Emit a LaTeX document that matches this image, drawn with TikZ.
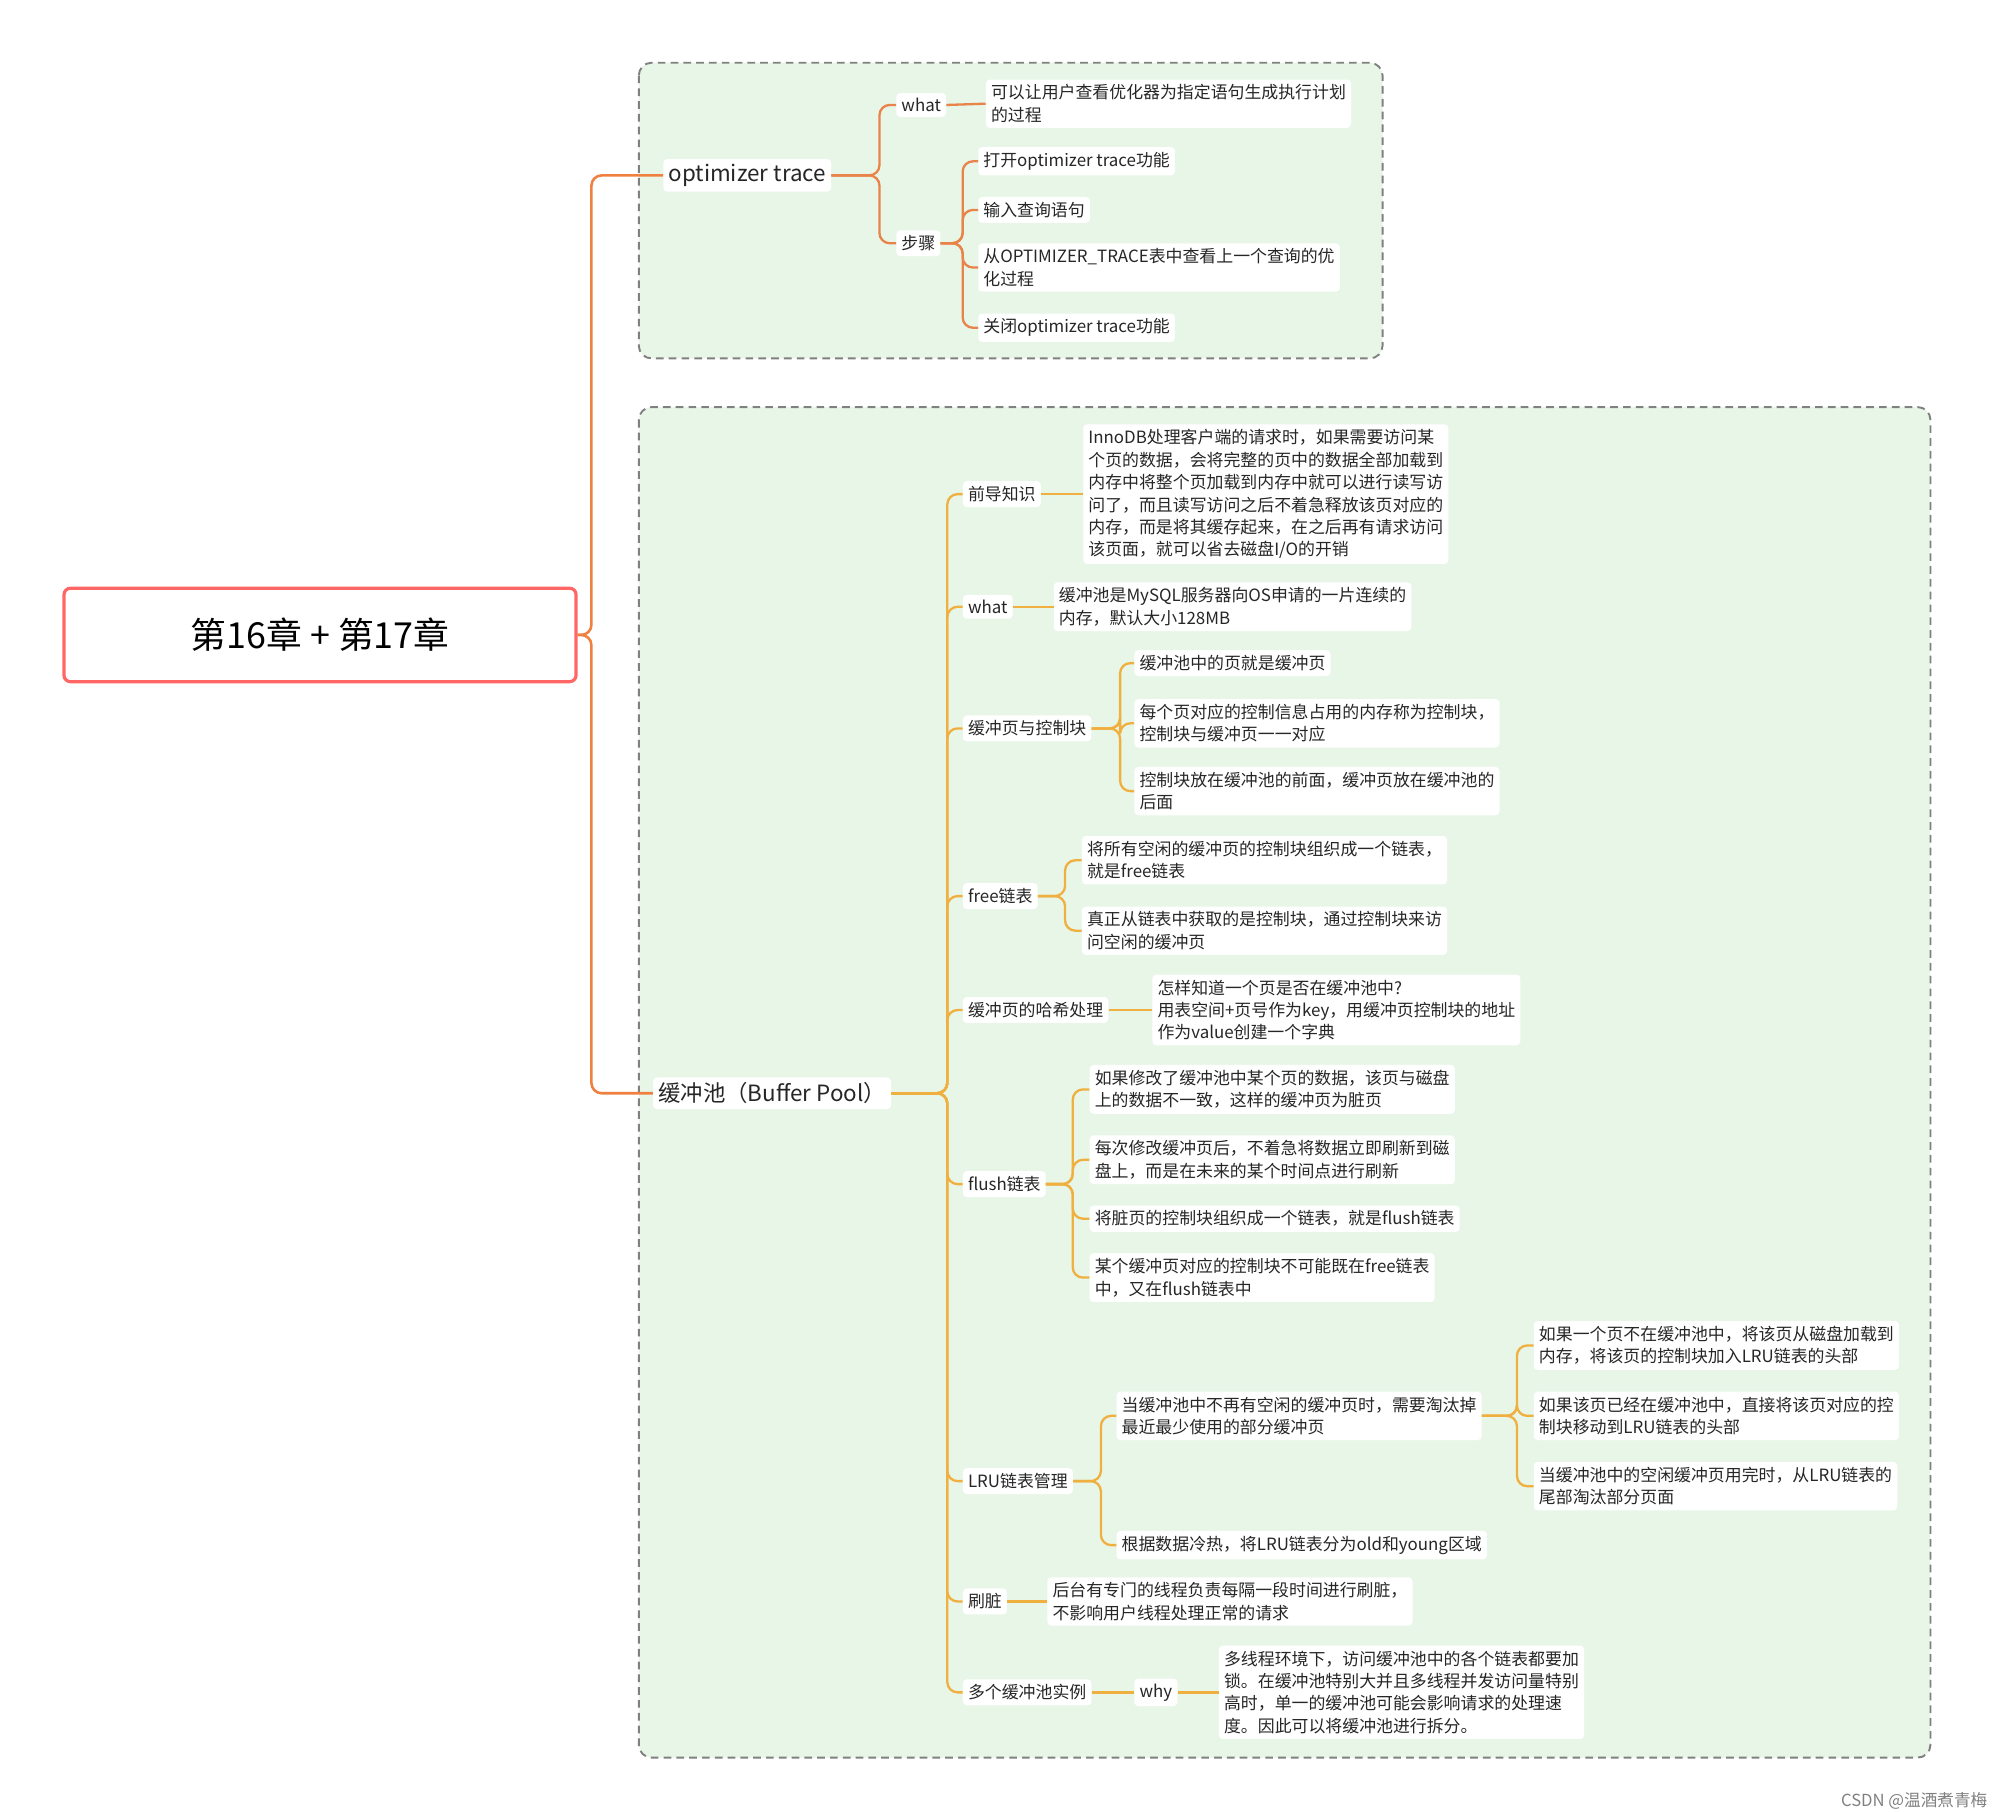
\documentclass[tikz,border=0pt]{standalone}
\usepackage{fontspec}
\setmainfont{Noto Sans CJK SC}
\newfontfamily\cjk{Noto Sans CJK SC}
\definecolor{oc1}{HTML}{E8844A}
\definecolor{yc1}{HTML}{F0B040}
\definecolor{root1}{HTML}{F08040}
\definecolor{gfill}{HTML}{E8F6E8}
\begin{document}
\begin{tikzpicture}[x=1pt,y=-1pt,
  lf/.style={fill=white,rounded corners=3,inner sep=4pt,align=left,anchor=west,font=\cjk\fontsize{13.2}{17.5}\selectfont,text=black!85},
  oc/.style={draw=oc1,line width=1.8pt,rounded corners=8},
  yc/.style={draw=yc1,line width=1.8pt,rounded corners=8},
  grp/.style={draw=gray,dash pattern=on 6pt off 4pt,line width=1.5pt,fill=gfill,rounded corners=10}]
\useasboundingbox (0,0) rectangle (1560,1416);
\draw[grp] (499,49) rectangle (1080,280);
\draw[grp] (499,318) rectangle (1508,1373);
\node[draw=red!60,line width=2.5pt,rounded corners=5,minimum width=400,minimum height=73,font=\cjk\fontsize{28}{30}\selectfont] (root) at (250,496) {第16章 + 第17章};
\node[lf,font=\cjk\fontsize{17.5}{20}\selectfont] (ot) at (518,137) {optimizer trace};
\node[lf,font=\cjk\fontsize{17.5}{20}\selectfont] (bp) at (510,854) {缓冲池（Buffer Pool）};
\draw[draw=root1,line width=2pt,rounded corners=8] (root.east) -- (462,496) |- (ot.west);
\draw[draw=root1,line width=2pt,rounded corners=8] (root.east) -- (462,496) |- (bp.west);
% top
\node[lf] (w1) at (700,82) {what};
\node[lf] (w1t) at (770,81) {可以让用户查看优化器为指定语句生成执行计划\\的过程};
\node[lf] (st) at (700,190) {步骤};
\node[lf] (s1) at (764,126) {打开optimizer trace功能};
\node[lf] (s2) at (764,164) {输入查询语句};
\node[lf] (s3) at (764,209) {从OPTIMIZER\_TRACE表中查看上一个查询的优\\化过程};
\node[lf] (s4) at (764,256) {关闭optimizer trace功能};
\foreach \c in {w1,st} \draw[oc] (ot.east) -- (687,137) |- (\c.west);
\draw[oc] (w1.east) -- (w1t.west);
\foreach \c in {s1,s2,s3,s4} \draw[oc] (st.east) -- (752,190) |- (\c.west);
% bottom
\node[lf] (a1) at (752,386) {前导知识};
\node[lf] (a1t) at (846,386) {InnoDB处理客户端的请求时，如果需要访问某\\个页的数据，会将完整的页中的数据全部加载到\\内存中将整个页加载到内存中就可以进行读写访\\问了，而且读写访问之后不着急释放该页对应的\\内存，而是将其缓存起来，在之后再有请求访问\\该页面，就可以省去磁盘I/O的开销};
\node[lf] (a2) at (752,474) {what};
\node[lf] (a2t) at (823,474) {缓冲池是MySQL服务器向OS申请的一片连续的\\内存，默认大小128MB};
\node[lf] (a3) at (752,569) {缓冲页与控制块};
\node[lf] (a31) at (886,518) {缓冲池中的页就是缓冲页};
\node[lf] (a32) at (886,565) {每个页对应的控制信息占用的内存称为控制块，\\控制块与缓冲页一一对应};
\node[lf] (a33) at (886,618) {控制块放在缓冲池的前面，缓冲页放在缓冲池的\\后面};
\node[lf] (a4) at (752,700) {free链表};
\node[lf] (a41) at (845,672) {将所有空闲的缓冲页的控制块组织成一个链表，\\就是free链表};
\node[lf] (a42) at (845,727) {真正从链表中获取的是控制块，通过控制块来访\\问空闲的缓冲页};
\node[lf] (a5) at (752,789) {缓冲页的哈希处理};
\node[lf] (a5t) at (900,789) {怎样知道一个页是否在缓冲池中?\\用表空间+页号作为key，用缓冲页控制块的地址\\作为value创建一个字典};
\node[lf] (a6) at (752,925) {flush链表};
\node[lf] (a61) at (851,851) {如果修改了缓冲池中某个页的数据，该页与磁盘\\上的数据不一致，这样的缓冲页为脏页};
\node[lf] (a62) at (851,906) {每次修改缓冲页后，不着急将数据立即刷新到磁\\盘上，而是在未来的某个时间点进行刷新};
\node[lf] (a63) at (851,952) {将脏页的控制块组织成一个链表，就是flush链表};
\node[lf] (a64) at (851,998) {某个缓冲页对应的控制块不可能既在free链表\\中，又在flush链表中};
\node[lf] (a7) at (752,1157) {LRU链表管理};
\node[lf] (a71) at (872,1106) {当缓冲池中不再有空闲的缓冲页时，需要淘汰掉\\最近最少使用的部分缓冲页};
\node[lf] (a72) at (872,1207) {根据数据冷热，将LRU链表分为old和young区域};
\node[lf] (b1) at (1198,1051) {如果一个页不在缓冲池中，将该页从磁盘加载到\\内存，将该页的控制块加入LRU链表的头部};
\node[lf] (b2) at (1198,1106) {如果该页已经在缓冲池中，直接将该页对应的控\\制块移动到LRU链表的头部};
\node[lf] (b3) at (1198,1161) {当缓冲池中的空闲缓冲页用完时，从LRU链表的\\尾部淘汰部分页面};
\node[lf] (a8) at (752,1251) {刷脏};
\node[lf] (a8t) at (818,1251) {后台有专门的线程负责每隔一段时间进行刷脏，\\不影响用户线程处理正常的请求};
\node[lf] (a9) at (752,1322) {多个缓冲池实例};
\node[lf] (a9w) at (886,1322) {why};
\node[lf] (a9t) at (952,1322) {多线程环境下，访问缓冲池中的各个链表都要加\\锁。在缓冲池特别大并且多线程并发访问量特别\\高时，单一的缓冲池可能会影响请求的处理速\\度。因此可以将缓冲池进行拆分。};
\foreach \c in {a1,a2,a3,a4,a5,a6,a7,a8,a9} \draw[yc] (bp.east) -- (740,854) |- (\c.west);
\draw[yc] (a1.east) -- (a1t.west);
\draw[yc] (a2.east) -- (a2t.west);
\foreach \c in {a31,a32,a33} \draw[yc] (a3.east) -- (875,569) |- (\c.west);
\foreach \c in {a41,a42} \draw[yc] (a4.east) -- (832,700) |- (\c.west);
\draw[yc] (a5.east) -- (a5t.west);
\foreach \c in {a61,a62,a63,a64} \draw[yc] (a6.east) -- (838,925) |- (\c.west);
\foreach \c in {a71,a72} \draw[yc] (a7.east) -- (860,1157) |- (\c.west);
\foreach \c in {b1,b2,b3} \draw[yc] (a71.east) -- (1185,1106) |- (\c.west);
\draw[yc] (a8.east) -- (a8t.west);
\draw[yc] (a9.east) -- (a9w.west);
\draw[yc] (a9w.east) -- (a9t.west);
\node[anchor=east,text=gray,font=\cjk\fontsize{13}{15}\selectfont] (wm) at (1556,1407) {CSDN @温酒煮青梅};
\end{tikzpicture}
\end{document}
